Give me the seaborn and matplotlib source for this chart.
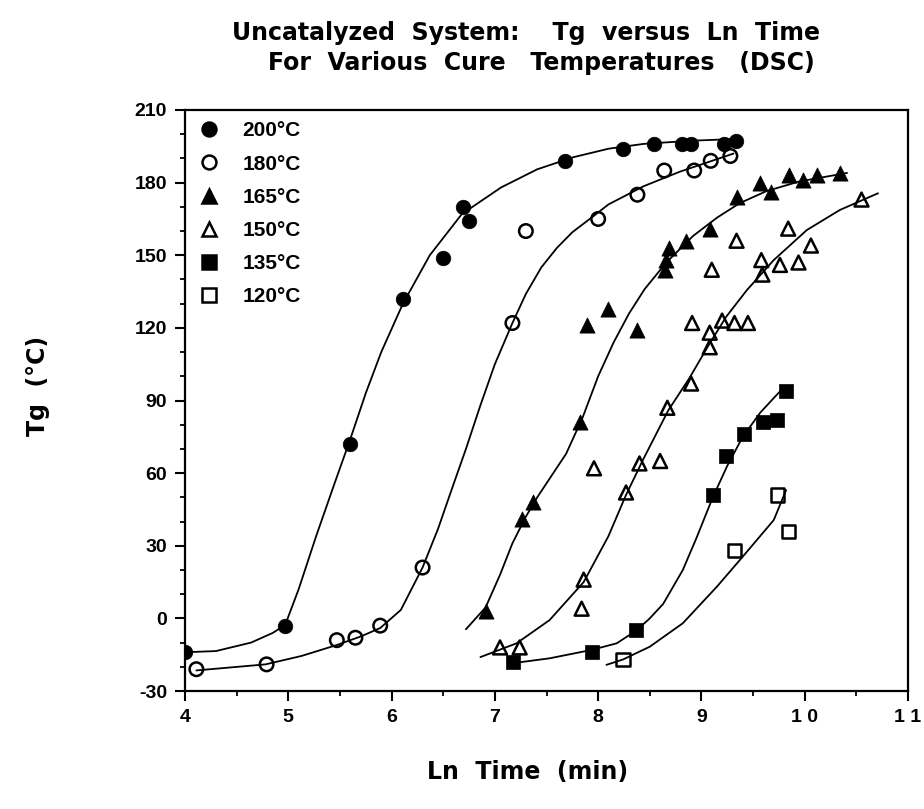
import matplotlib
matplotlib.use("Agg")
import matplotlib.pyplot as plt
from matplotlib.lines import Line2D
from matplotlib.ticker import MultipleLocator, FixedLocator
import numpy as np
import pandas as pd
import seaborn as sns

# ---- measured Tg data (Ln time in min, Tg in degC) ----
x200 = [4.00, 4.97, 5.60, 6.11, 6.50, 6.69, 6.75, 7.68, 8.24, 8.54, 8.81, 8.90, 9.22, 9.33]
y200 = [-14, -3, 72, 132, 149, 170, 164, 189, 194, 196, 196, 196, 196, 197]

x180 = [4.11, 4.79, 5.47, 5.65, 5.89, 6.30, 7.17, 7.30, 8.00, 8.38, 8.64, 8.93, 9.09, 9.28]
y180 = [-21, -19, -9, -8, -3, 21, 122, 160, 165, 175, 185, 185, 189, 191]

x165 = [6.91, 7.26, 7.37, 7.82, 7.89, 8.10, 8.38, 8.65, 8.66, 8.69, 8.85, 9.08,
        9.34, 9.57, 9.67, 9.85, 9.98, 10.12, 10.34]
y165 = [3, 41, 48, 81, 121, 128, 119, 144, 148, 153, 156, 161,
        174, 180, 176, 183, 181, 183, 184]

x150 = [7.05, 7.24, 7.84, 7.86, 7.96, 8.27, 8.40, 8.60, 8.67, 8.90, 8.91, 9.08, 9.08,
        9.20, 9.32, 9.45, 9.10, 9.34, 9.58, 9.59, 9.76, 9.94, 9.84, 10.06, 10.55]
y150 = [-12, -12, 4, 16, 62, 52, 64, 65, 87, 97, 122, 112, 118,
        123, 122, 122, 144, 156, 148, 142, 146, 147, 161, 154, 173]

x135 = [7.18, 7.94, 8.37, 9.11, 9.24, 9.41, 9.60, 9.73, 9.82]
y135 = [-18, -14, -5, 51, 67, 76, 81, 82, 94]

x120 = [8.24, 9.32, 9.84, 9.74]
y120 = [-17, 28, 36, 51]

# ---- fitted curves (Ln time, Tg) ----
cx200 = [4.00, 4.30, 4.64, 4.85, 4.97, 5.10, 5.27, 5.45, 5.60, 5.75, 5.90, 6.11,
         6.37, 6.68, 7.06, 7.41, 7.76, 8.10, 8.44, 8.90, 9.31]
cy200 = [-14, -13.5, -10, -6, -2.7, 12, 34, 56, 74, 93, 110, 130,
         150, 167, 178, 185.5, 190.5, 194, 196, 197.3, 198]

cx180 = [4.11, 4.78, 5.13, 5.47, 5.70, 5.89, 6.09, 6.30, 6.45, 6.58, 6.72, 6.86,
         7.00, 7.17, 7.30, 7.45, 7.60, 7.75, 7.95, 8.10, 8.44, 8.79, 9.31]
cy180 = [-21.5, -19, -15.5, -11, -7.5, -4, 3.5, 21, 37, 53, 70, 88,
         105, 122, 134, 145, 153, 159.5, 166, 171, 178.5, 184.5, 192]

cx165 = [6.72, 6.91, 7.05, 7.17, 7.30, 7.41, 7.55, 7.69, 7.85, 8.00, 8.15, 8.30,
         8.45, 8.66, 8.92, 9.15, 9.37, 9.63, 9.95, 10.41]
cy165 = [-4.5, 4.5, 18, 31, 42, 50, 59, 68, 83, 100, 114, 126,
         136, 147, 158, 165.5, 171.5, 176.5, 180.5, 184]

cx150 = [6.86, 7.21, 7.53, 7.86, 8.10, 8.27, 8.44, 8.68, 8.88, 9.08, 9.24, 9.44,
         9.70, 10.02, 10.34, 10.71]
cy150 = [-16, -10.3, -0.7, 15, 34, 51, 66, 86, 99, 113.6, 124.6, 135.6,
         148, 160.4, 168.7, 175.6]

cx135 = [7.21, 7.53, 7.94, 8.18, 8.37, 8.50, 8.63, 8.82, 8.95, 9.11, 9.25, 9.40,
         9.57, 9.70, 9.81]
cy135 = [-18.3, -16.5, -13, -10.3, -5, 0, 6, 20, 33, 50, 63, 75,
         85, 91, 96]

cx120 = [8.08, 8.24, 8.50, 8.82, 9.15, 9.40, 9.70, 9.82]
cy120 = [-19.2, -17, -11.7, -2, 13.1, 25.5, 40.6, 53]

labels = ["200°C", "180°C", "165°C", "150°C", "135°C", "120°C"]
markers = ["o", "o", "^", "^", "s", "s"]
filled = [True, False, True, False, True, False]
sizes = [110, 95, 120, 100, 100, 90]

xticks = [4, 5, 6, 7, 8, 9, 10, 11]
xtick_labels = ["4", "5", "6", "7", "8", "9", "1 0", "1 1"]
yticks = [-30, 0, 30, 60, 90, 120, 150, 180, 210]

title_1 = "Uncatalyzed  System:    Tg  versus  Ln  Time"
title_2 = "For  Various  Cure   Temperatures   (DSC)"

points = [(x200, y200), (x180, y180), (x165, y165), (x150, y150), (x135, y135), (x120, y120)]
curves = [(cx200, cy200), (cx180, cy180), (cx165, cy165), (cx150, cy150), (cx135, cy135), (cx120, cy120)]

sns.set_style("ticks")
plt.rcParams["font.family"] = ["Liberation Sans", "DejaVu Sans"]
plt.rcParams["font.weight"] = "bold"
plt.rcParams["axes.unicode_minus"] = False
plt.rcParams["text.color"] = "black"
plt.rcParams["axes.labelcolor"] = "black"
plt.rcParams["xtick.color"] = "black"
plt.rcParams["ytick.color"] = "black"

W, H = 924, 809
fig = plt.figure(figsize=(W / 100, H / 100), dpi=100)
ax = fig.add_axes([185 / W, 1 - 691 / H, (908 - 185) / W, (691 - 110) / H])

for (cx, cy) in curves:
    df = pd.DataFrame({"t": cx, "tg": cy})
    sns.lineplot(data=df, x="t", y="tg", sort=False, estimator=None,
                 color="black", linewidth=1.3, ax=ax)

for (px, py), lab, m, f, s in zip(points, labels, markers, filled, sizes):
    df = pd.DataFrame({"t": px, "tg": py})
    sns.scatterplot(data=df, x="t", y="tg", marker=m, s=s, color="black",
                    edgecolor="black", linewidth=1.8 if not f else 0.5, ax=ax, zorder=3)
    if not f:
        ax.collections[-1].set_facecolor("none")

ax.set_xlim(4, 11)
ax.set_ylim(-30, 210)
ax.xaxis.set_major_locator(FixedLocator(xticks))
ax.set_xticklabels(xtick_labels)
ax.xaxis.set_minor_locator(MultipleLocator(0.5))
ax.yaxis.set_major_locator(FixedLocator(yticks))
ax.yaxis.set_minor_locator(MultipleLocator(10))
ax.tick_params(which="major", direction="out", length=7, width=1.5,
               labelsize=14, pad=6, colors="black", labelcolor="black")
ax.tick_params(which="minor", direction="out", length=3.5, width=1.3, colors="black")
for lab in ax.get_xticklabels() + ax.get_yticklabels():
    lab.set_fontweight("bold")
for sp in ax.spines.values():
    sp.set_linewidth(1.6)
    sp.set_color("black")
ax.set_xlabel("")
ax.set_ylabel("")

handles = []
for lab, m, f in zip(labels, markers, filled):
    handles.append(Line2D([], [], linestyle="none", marker=m, markersize=10,
                          markerfacecolor="black" if f else "none",
                          markeredgecolor="black", markeredgewidth=1.8, label=lab))
leg = ax.legend(handles=handles, loc="upper left", bbox_to_anchor=(0.0, 1.0),
                frameon=False, prop={"weight": "bold", "size": 15},
                labelspacing=0.68, handletextpad=1.0, handlelength=1.2,
                borderaxespad=0.15, labelcolor="black")

wide = ["DejaVu Sans"]
fig.text(232 / W, 1 - 33 / H, title_1, fontsize=17, fontweight="bold",
         family=wide, ha="left", va="center", color="black")
fig.text(268 / W, 1 - 63 / H, title_2, fontsize=17, fontweight="bold",
         family=wide, ha="left", va="center", color="black")

fig.text(528 / W, 1 - 772 / H, "Ln  Time  (min)", fontsize=17,
         fontweight="bold", family=wide, ha="center", va="center", color="black")
fig.text(38 / W, 1 - 386 / H, "Tg  (°C)", fontsize=17, fontweight="bold",
         family=wide, ha="center", va="center", rotation=90, color="black")

fig.savefig("out.png", dpi=100)
